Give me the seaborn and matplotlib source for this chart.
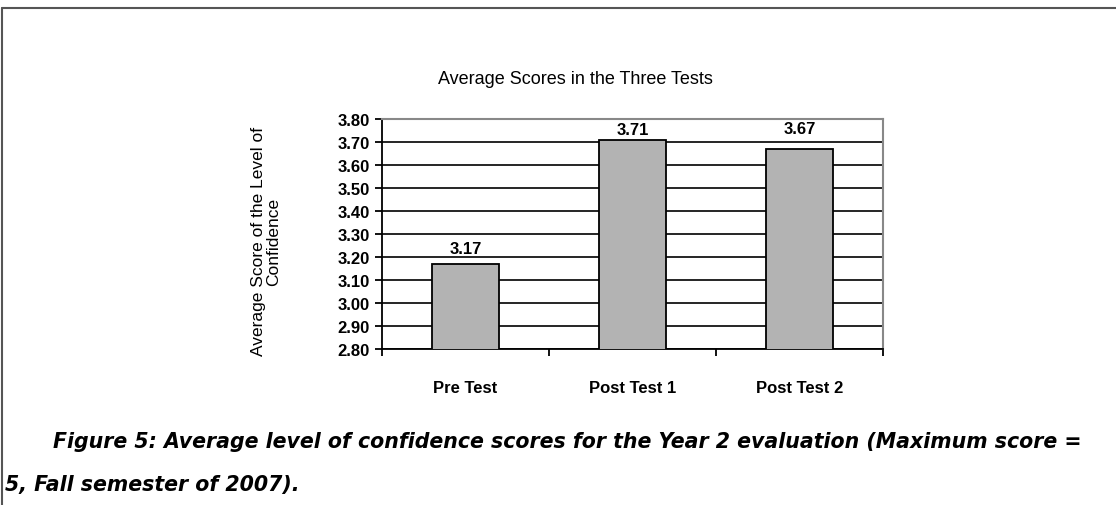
import matplotlib
matplotlib.use("Agg")
import matplotlib.pyplot as plt
from matplotlib.lines import Line2D
from matplotlib.ticker import FixedLocator
import pandas as pd
import seaborn as sns

tests = ["Pre Test", "Post Test 1", "Post Test 2"]
scores = [3.17, 3.71, 3.67]
y_ticks = [2.80, 2.90, 3.00, 3.10, 3.20, 3.30, 3.40, 3.50, 3.60, 3.70, 3.80]
# gap (points) between each bar top and its value label, as Excel placed them
label_pad = [6, 2, 9]

sns.set_theme(style="white")
plt.rcParams["font.family"] = ["Liberation Sans", "DejaVu Sans"]
plt.rcParams.update({"text.color": "black", "axes.labelcolor": "black",
                     "xtick.color": "black", "ytick.color": "black"})

df = pd.DataFrame({"test": tests, "score": scores})

fig = plt.figure(figsize=(11.16, 5.06), dpi=100)
ax = fig.add_axes([0.3423, 0.3083, 0.4489, 0.4545])

sns.barplot(data=df, x="test", y="score", ax=ax, color="#b3b3b3",
            edgecolor="black", linewidth=1.3, width=0.4, saturation=1,
            zorder=3)

ax.set_ylim(2.8, 3.8)
ax.set_xlim(-0.5, 2.5)
ax.set_yticks(y_ticks)
ax.set_yticklabels([f"{v:.2f}" for v in y_ticks], fontsize=12, fontweight="bold")
ax.yaxis.grid(True, color="black", linewidth=1.2, zorder=0)
ax.set_axisbelow(True)

# category labels in the middle, tick marks on the boundaries
ax.set_xticks(range(len(tests)))
ax.set_xticklabels(tests, fontsize=12, fontweight="bold")
ax.xaxis.set_minor_locator(FixedLocator([-0.5, 0.5, 1.5, 2.5]))
ax.tick_params(axis="x", which="major", length=0, pad=22)
ax.tick_params(axis="x", which="minor", length=5, width=1.3, color="black",
               bottom=True)
ax.tick_params(axis="y", length=5, width=1.3, color="black", left=True, pad=4)

for side in ["left", "bottom"]:
    ax.spines[side].set_color("black")
    ax.spines[side].set_linewidth(1.3)
for side in ["top", "right"]:
    ax.spines[side].set_color("#888888")
    ax.spines[side].set_linewidth(1.5)

for i, (val, pad) in enumerate(zip(scores, label_pad)):
    ax.annotate(f"{val:.2f}", (i, val), xytext=(0, pad), textcoords="offset points",
                ha="center", va="bottom", fontsize=12, fontweight="bold")

ax.set_xlabel("")
ax.set_ylabel("Average Score of the Level of\nConfidence", fontsize=12.5,
              linespacing=0.95)
ax.yaxis.set_label_coords(-0.202, 0.47)

fig.text(575 / 1116, 1 - 80 / 506, "Average Scores in the Three Tests",
         fontsize=13, ha="center", va="center")

# caption below the chart
cap = dict(fontsize=14.8, fontweight="bold", style="italic",
           family=["DejaVu Sans"], color="black")
fig.text(53 / 1116, 1 - 442 / 506, "Figure 5: Average level of confidence scores for "
         "the Year 2 evaluation (Maximum score =", va="center", **cap)
fig.text(5 / 1116, 1 - 485 / 506, "5, Fall semester of 2007).", va="center", **cap)

# page frame
fig.add_artist(Line2D([0.002, 1.0], [1 - 9 / 506, 1 - 9 / 506],
                      color="#555555", linewidth=1.5, transform=fig.transFigure))
fig.add_artist(Line2D([0.002, 0.002], [0.0, 1 - 9 / 506],
                      color="#555555", linewidth=1.5, transform=fig.transFigure))

fig.savefig("out.png", dpi=100)
